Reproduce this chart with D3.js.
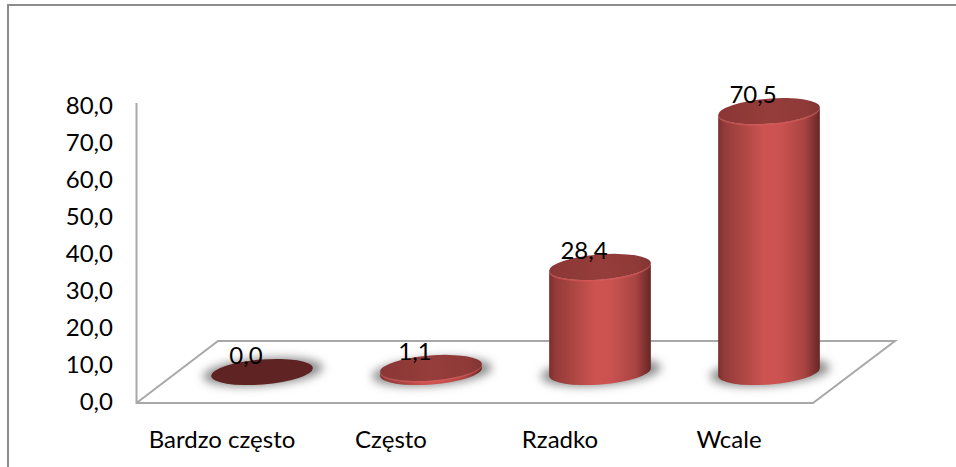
<!DOCTYPE html>
<html><head><meta charset="utf-8">
<script src="https://cdn.jsdelivr.net/npm/d3@7"></script>
<style>html,body{margin:0;padding:0;background:#fff}svg{display:block}</style>
</head><body><svg id="c" width="956" height="467"></svg>
<script>
const categories = ["Bardzo często", "Często", "Rzadko", "Wcale"];
const values = [0.0, 1.1, 28.4, 70.5];
const yTicks = [0, 10, 20, 30, 40, 50, 60, 70, 80];
const fmt = v => v.toFixed(1).replace(".", ",");
const font = "Lato, Carlito, sans-serif";
const fontSize = 24;

const svg = d3.select("#c");
const y = d3.scaleLinear().domain([0, 80]).range([401, 105]);
const barX = d3.scalePoint().domain(categories).range([262, 769]);
const labX = d3.scalePoint().domain(categories).range([222, 729]);
const valX = d3.scalePoint().domain(categories).range([246, 753]);
const baseOffset = y(0) - 372; // depth of the bars on the floor
const rx = 51, ry = 12.5, tilt = -4.5, rad = tilt * Math.PI / 180;
const tipX = rx * Math.cos(rad), tipY = rx * Math.sin(rad);

const defs = svg.append("defs");
const sideGrad = defs.append("linearGradient").attr("id", "side");
[[0, "#7a2f2e"], [.06, "#933b39"], [.3, "#b54a47"], [.45, "#cd5350"], [.62, "#c95250"], [.85, "#a84442"], [.97, "#742c2b"], [1, "#652625"]]
  .forEach(([o, c]) => sideGrad.append("stop").attr("offset", o).attr("stop-color", c));
const topGrad = defs.append("linearGradient").attr("id", "topg");
[[0, "#8a3735"], [.5, "#953d3b"], [.85, "#8f3a38"], [1, "#833533"]]
  .forEach(([o, c]) => topGrad.append("stop").attr("offset", o).attr("stop-color", c));
defs.append("filter").attr("id", "blur").attr("x", "-30%").attr("y", "-100%").attr("width", "160%").attr("height", "300%")
  .append("feGaussianBlur").attr("stdDeviation", 5);

// outer frame
svg.append("path").attr("d", "M8,467V5H956").attr("fill", "none").attr("stroke", "#8c8c8c").attr("stroke-width", 2);

// 3D floor and wall
svg.append("path").attr("d", "M136.5,103V403H813L895,341H218L136.5,403")
  .attr("fill", "none").attr("stroke", "#a8a8a8").attr("stroke-width", 2);

// y labels
svg.append("g").selectAll("text").data(yTicks).join("text")
  .attr("x", 113).attr("y", d => y(d) + 1).attr("dy", "0.35em").attr("text-anchor", "end")
  .attr("font-family", font).attr("font-size", fontSize).attr("fill", "#000").text(fmt);

// category labels
svg.append("g").selectAll("text").data(categories).join("text")
  .attr("x", d => labX(d)).attr("y", 448).attr("text-anchor", "middle")
  .attr("font-family", font).attr("font-size", fontSize).attr("fill", "#000").text(d => d);

// bars
const bars = svg.append("g").selectAll("g").data(values).join("g");
bars.each(function (v, i) {
  const g = d3.select(this), cx = barX(categories[i]);
  const cyB = y(0) - baseOffset, cyT = y(v) - baseOffset;
  const ell = c => `rotate(${tilt} ${cx} ${c})`;
  g.append("ellipse").attr("cx", cx + 1).attr("cy", cyB).attr("rx", rx + 9).attr("ry", ry + 1)
    .attr("transform", ell(cyB)).attr("fill", "#8a8a8a").attr("filter", "url(#blur)");
  if (v === 0) {
    g.append("ellipse").attr("cx", cx).attr("cy", cyB).attr("rx", rx).attr("ry", ry)
      .attr("transform", ell(cyB)).attr("fill", "#5e2322");
    return;
  }
  const p = `M${cx - tipX},${cyT - tipY}L${cx - tipX},${cyB - tipY}` +
    `A${rx},${ry} ${tilt} 0 0 ${cx + tipX},${cyB + tipY}` +
    `L${cx + tipX},${cyT + tipY}A${rx},${ry} ${tilt} 0 1 ${cx - tipX},${cyT - tipY}Z`;
  g.append("path").attr("d", p).attr("fill", "url(#side)");
  g.append("ellipse").attr("cx", cx).attr("cy", cyT + 1.5).attr("rx", rx).attr("ry", ry)
    .attr("transform", ell(cyT + 1.5)).attr("fill", "#dc5c5c").attr("opacity", .55);
  g.append("ellipse").attr("cx", cx).attr("cy", cyT).attr("rx", rx).attr("ry", ry)
    .attr("transform", ell(cyT)).attr("fill", "url(#topg)");
});

// value labels
svg.append("g").selectAll("text").data(values).join("text")
  .attr("x", (d, i) => valX(categories[i])).attr("y", d => y(d) - baseOffset - 8)
  .attr("text-anchor", "middle").attr("font-family", font).attr("font-size", fontSize).attr("fill", "#000").text(fmt);
</script></body></html>
